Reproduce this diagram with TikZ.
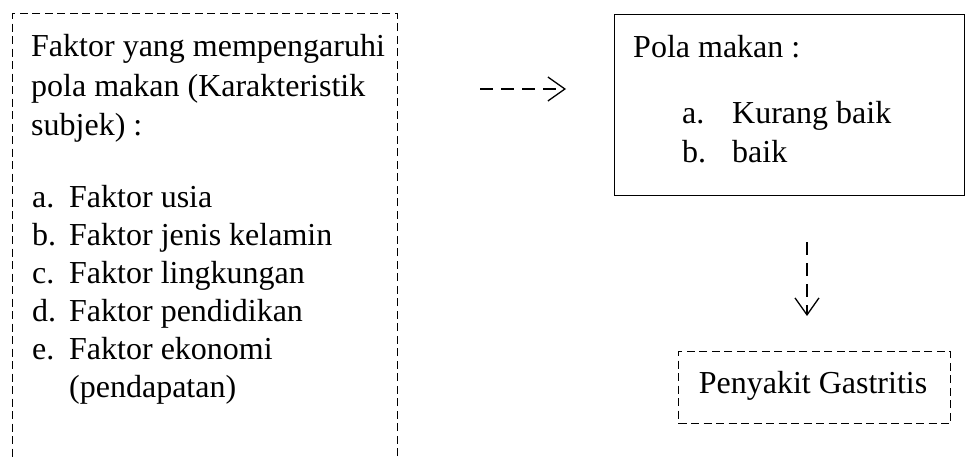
\documentclass[tikz,border=0pt]{standalone}
\usepackage{fontspec}
\setmainfont{Liberation Serif}
\usetikzlibrary{arrows.meta}
\tikzset{
  dbox/.style={draw, line width=1pt, dash pattern=on 8pt off 4.5pt, inner sep=0pt},
  sbox/.style={draw, line width=1.1pt, inner sep=0pt},
  txt/.style={anchor=base west, inner sep=0pt, font=\fontsize{32}{38}\selectfont},
  ctxt/.style={anchor=base, inner sep=0pt, font=\fontsize{32}{38}\selectfont},
  darrow/.style={line width=1.3pt, dash pattern=on 13pt off 8pt,
    -{Straight Barb[length=17pt,width=24pt,line width=1.3pt]}}
}
\begin{document}
\begin{tikzpicture}[x=1pt,y=-1pt]
\useasboundingbox (0,0) rectangle (966,458);
\begin{scope}
\clip (0,0) rectangle (966,458);
% left dashed box (runs past the bottom edge)
\node[dbox, minimum width=385pt, minimum height=470pt, anchor=north west] (factors) at (12,13) {};
\end{scope}
\node[txt] (f1) at (31,56) {Faktor yang mempengaruhi};
\node[txt] (f2) at (31,96) {pola makan (Karakteristik};
\node[txt] (f3) at (31,135) {subjek) :};
\node[txt] (la) at (32,207) {a.};
\node[txt] (ia) at (69,207) {Faktor usia};
\node[txt] (lb) at (32,245) {b.};
\node[txt] (ib) at (69,245) {Faktor jenis kelamin};
\node[txt] (lc) at (32,283) {c.};
\node[txt] (ic) at (69,283) {Faktor lingkungan};
\node[txt] (ld) at (32,321) {d.};
\node[txt] (id) at (69,321) {Faktor pendidikan};
\node[txt] (le) at (32,359) {e.};
\node[txt] (ie) at (69,359) {Faktor ekonomi};
\node[txt] (ie2) at (69,397) {(pendapatan)};
% right box
\node[sbox, minimum width=350pt, minimum height=181pt, anchor=north west] (pola) at (614,14) {};
\node[txt] (p1) at (633,57) {Pola makan :};
\node[txt] (pa) at (682,123) {a.};
\node[txt] (pai) at (732,123) {Kurang baik};
\node[txt] (pb) at (682,162) {b.};
\node[txt] (pbi) at (732,162) {baik};
% gastritis box
\node[dbox, minimum width=272pt, minimum height=72pt, anchor=north west] (gas) at (678,351) {};
\node[ctxt] (gt) at (813,393) {Penyakit Gastritis};
% arrows
\coordinate (a1s) at (480,89);
\coordinate (a1e) at (566,89);
\coordinate (a2s) at (807,242);
\coordinate (a2e) at (807,316);
\draw[darrow] (a1s) -- (a1e);
\draw[darrow] (a2s) -- (a2e);
\end{tikzpicture}
\end{document}
